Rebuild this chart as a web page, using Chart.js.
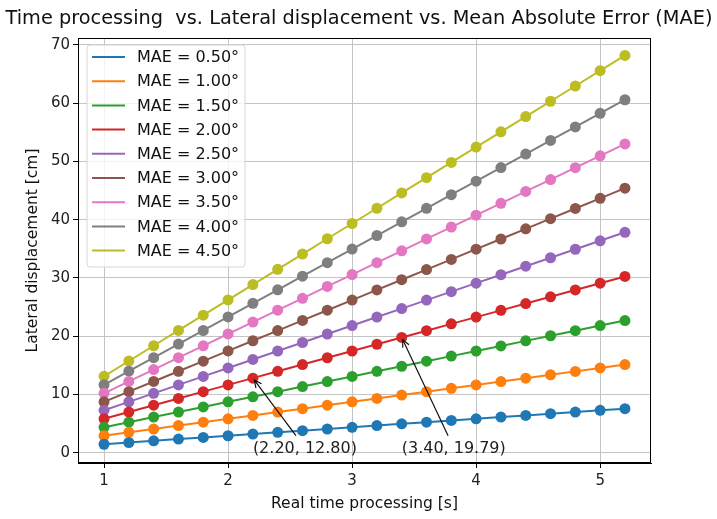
<!DOCTYPE html>
<html>
<head>
<meta charset="utf-8">
<script src="https://cdn.jsdelivr.net/npm/chart.js@4.4.1/dist/chart.umd.min.js"></script>
<style>
  html, body { margin: 0; padding: 0; background: #fff; }
  #wrap { width: 717px; height: 519px; }
</style>
</head>
<body>
<div id="wrap"><canvas id="c"></canvas></div>
<script>
// real time processing [s]
const timeValues = [1.0, 1.2, 1.4, 1.6, 1.8, 2.0, 2.2, 2.4, 2.6, 2.8, 3.0, 3.2, 3.4, 3.6, 3.8, 4.0, 4.2, 4.4, 4.6, 4.8, 5.0, 5.2];

// lateral displacement [cm] per MAE
const mae050 = [1.45, 1.75, 2.04, 2.33, 2.62, 2.91, 3.20, 3.49, 3.78, 4.07, 4.36, 4.65, 4.95, 5.24, 5.53, 5.82, 6.11, 6.40, 6.69, 6.98, 7.27, 7.56];
const mae100 = [2.91, 3.49, 4.07, 4.65, 5.24, 5.82, 6.40, 6.98, 7.56, 8.15, 8.73, 9.31, 9.89, 10.47, 11.05, 11.64, 12.22, 12.80, 13.38, 13.96, 14.55, 15.13];
const mae150 = [4.36, 5.24, 6.11, 6.98, 7.86, 8.73, 9.60, 10.47, 11.35, 12.22, 13.09, 13.97, 14.84, 15.71, 16.58, 17.46, 18.33, 19.20, 20.08, 20.95, 21.82, 22.69];
const mae200 = [5.82, 6.98, 8.15, 9.31, 10.48, 11.64, 12.80, 13.97, 15.13, 16.30, 17.46, 18.62, 19.79, 20.95, 22.12, 23.28, 24.44, 25.61, 26.77, 27.94, 29.10, 30.26];
const mae250 = [7.28, 8.73, 10.19, 11.64, 13.10, 14.55, 16.01, 17.46, 18.92, 20.38, 21.83, 23.29, 24.74, 26.20, 27.65, 29.11, 30.56, 32.02, 33.47, 34.93, 36.38, 37.84];
const mae300 = [8.73, 10.48, 12.23, 13.98, 15.72, 17.47, 19.22, 20.96, 22.71, 24.46, 26.20, 27.95, 29.70, 31.44, 33.19, 34.94, 36.69, 38.43, 40.18, 41.93, 43.67, 45.42];
const mae350 = [10.19, 12.23, 14.27, 16.31, 18.35, 20.39, 22.43, 24.47, 26.50, 28.54, 30.58, 32.62, 34.66, 36.70, 38.74, 40.78, 42.81, 44.85, 46.89, 48.93, 50.97, 53.01];
const mae400 = [11.65, 13.99, 16.32, 18.65, 20.98, 23.31, 25.64, 27.97, 30.30, 32.63, 34.96, 37.29, 39.63, 41.96, 44.29, 46.62, 48.95, 51.28, 53.61, 55.94, 58.27, 60.60];
const mae450 = [13.12, 15.74, 18.36, 20.99, 23.61, 26.23, 28.86, 31.48, 34.10, 36.73, 39.35, 41.97, 44.60, 47.22, 49.84, 52.47, 55.09, 57.71, 60.34, 62.96, 65.59, 68.21];

const seriesValues = [mae050, mae100, mae150, mae200, mae250, mae300, mae350, mae400, mae450];
const seriesLabels = ['MAE = 0.50°', 'MAE = 1.00°', 'MAE = 1.50°', 'MAE = 2.00°', 'MAE = 2.50°',
                      'MAE = 3.00°', 'MAE = 3.50°', 'MAE = 4.00°', 'MAE = 4.50°'];
const seriesColors = ['#1f77b4', '#ff7f0e', '#2ca02c', '#d62728', '#9467bd',
                      '#8c564b', '#e377c2', '#7f7f7f', '#bcbd22'];

const xTicks = [1, 2, 3, 4, 5];
const yTicks = [0, 10, 20, 30, 40, 50, 60, 70];

// annotated points
const notePoints = [
  { x: 2.2, y: 12.80, label: '(2.20, 12.80)' },
  { x: 3.4, y: 19.79, label: '(3.40, 19.79)' }
];

const FONT = '"DejaVu Sans", sans-serif';

const decorPlugin = {
  id: 'decor',
  afterDraw(chart) {
    const ctx = chart.ctx;
    const area = chart.chartArea;
    const xs = chart.scales.x, ys = chart.scales.y;

    ctx.save();
    // axes frame
    ctx.strokeStyle = '#000';
    ctx.lineWidth = 1;
    ctx.strokeRect(area.left + 0.5, area.top + 0.5, area.right - area.left - 1, area.bottom - area.top - 1);

    // annotations
    ctx.font = '16px ' + FONT;
    ctx.fillStyle = '#222';
    ctx.strokeStyle = '#111';
    ctx.textAlign = 'left';
    ctx.textBaseline = 'alphabetic';
    notePoints.forEach(p => {
      const tx = xs.getPixelForValue(p.x);
      const ty = ys.getPixelForValue(0);
      ctx.fillText(p.label, tx, ty);
      const w = ctx.measureText(p.label).width;
      const cx = tx + w / 2, cy = ty - 5;
      const top = ty - 17;
      const px = xs.getPixelForValue(p.x), py = ys.getPixelForValue(p.y);
      const t = (cy - top) / (cy - py);
      const sx = cx + (px - cx) * t, sy = top;
      const ang = Math.atan2(py - sy, px - sx);
      const ex = px - Math.cos(ang) * 2.5, ey = py - Math.sin(ang) * 2.5;
      ctx.lineWidth = 1.2;
      ctx.beginPath();
      ctx.moveTo(sx, sy);
      ctx.lineTo(ex, ey);
      ctx.stroke();
      ctx.beginPath();
      ctx.moveTo(ex - Math.cos(ang - 0.45) * 8, ey - Math.sin(ang - 0.45) * 8);
      ctx.lineTo(ex, ey);
      ctx.lineTo(ex - Math.cos(ang + 0.45) * 8, ey - Math.sin(ang + 0.45) * 8);
      ctx.stroke();
    });

    // legend in upper left of the axes
    const lx = area.left + 9, ly = area.top + 7, lw = 158, lh = 222;
    ctx.globalAlpha = 0.8;
    ctx.fillStyle = '#fff';
    ctx.beginPath();
    ctx.roundRect(lx, ly, lw, lh, 3);
    ctx.fill();
    ctx.globalAlpha = 1;
    ctx.strokeStyle = '#d6d6d6';
    ctx.lineWidth = 1;
    ctx.stroke();
    ctx.font = '16px ' + FONT;
    ctx.textBaseline = 'middle';
    ctx.fillStyle = '#111';
    seriesLabels.forEach((lab, i) => {
      const y = ly + 12 + i * 24.2;
      ctx.strokeStyle = seriesColors[i];
      ctx.lineWidth = 2;
      ctx.beginPath();
      ctx.moveTo(lx + 5, y);
      ctx.lineTo(lx + 38, y);
      ctx.stroke();
      ctx.fillText(lab, lx + 50, y + 1);
    });

    // title
    ctx.font = '20px ' + FONT;
    ctx.textAlign = 'center';
    ctx.textBaseline = 'alphabetic';
    ctx.fillStyle = '#111';
    const title = 'Time processing  vs. Lateral displacement vs. Mean Absolute Error (MAE)';
    const tw = ctx.measureText(title).width;
    const sc = Math.min(1, 707 / tw);
    ctx.save();
    ctx.translate(359, 24);
    ctx.scale(sc, 1);
    ctx.fillText(title, 0, 0);
    ctx.restore();

    // axis titles
    ctx.font = '15.5px ' + FONT;
    ctx.fillText('Real time processing [s]', (area.left + area.right) / 2, 508);
    ctx.save();
    ctx.translate(37, (area.top + area.bottom) / 2);
    ctx.rotate(-Math.PI / 2);
    ctx.fillText('Lateral displacement [cm]', 0, 0);
    ctx.restore();
    ctx.restore();
  }
};

new Chart(document.getElementById('c'), {
  type: 'line',
  data: {
    datasets: seriesValues.map((vals, i) => ({
      label: seriesLabels[i],
      data: timeValues.map((t, j) => ({ x: t, y: vals[j] })),
      borderColor: seriesColors[i],
      backgroundColor: seriesColors[i],
      borderWidth: 2,
      pointRadius: 5.5,
      pointBorderWidth: 0,
      tension: 0
    }))
  },
  options: {
    responsive: true,
    maintainAspectRatio: false,
    animation: false,
    layout: { padding: { left: 0, right: 66, top: 38, bottom: 0 } },
    plugins: {
      legend: { display: false },
      title: { display: false },
      tooltip: { enabled: false }
    },
    scales: {
      x: {
        type: 'linear',
        min: 0.79,
        max: 5.41,
        afterBuildTicks: s => { s.ticks = xTicks.map(v => ({ value: v })); },
        afterFit: s => { s.height = 56; },
        grid: { color: '#c4c4c4', tickColor: '#000', tickLength: 5 },
        border: { color: '#000' },
        ticks: { color: '#222', font: { family: FONT, size: 15 }, padding: 4, maxRotation: 0 }
      },
      y: {
        min: -1.77,
        max: 71.2,
        afterBuildTicks: s => { s.ticks = yTicks.map(v => ({ value: v })); },
        afterFit: s => { s.width = 78; },
        grid: { color: '#c4c4c4', tickColor: '#000', tickLength: 5 },
        border: { color: '#000' },
        ticks: { color: '#222', font: { family: FONT, size: 15 }, padding: 3 }
      }
    }
  },
  plugins: [decorPlugin]
});
</script>
</body>
</html>
